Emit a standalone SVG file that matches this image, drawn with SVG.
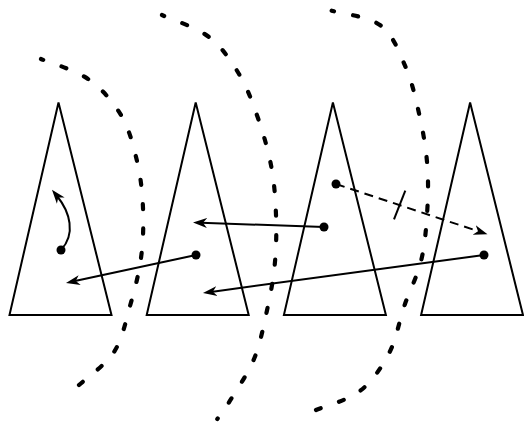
<svg xmlns="http://www.w3.org/2000/svg" width="524" height="426" viewBox="0 0 524 426">
<style>
.tri{fill:none;stroke:#000;stroke-width:2}
.bnd{fill:none;stroke:#000;stroke-width:4.2;stroke-linecap:round;stroke-dasharray:5 19;stroke-dashoffset:2.5}
.edge{fill:none;stroke:#000;stroke-width:2;marker-end:url(#ah)}
.dash{stroke-dasharray:9 6}
.dot{fill:#000}
</style>
<defs>
<marker id="ah" markerUnits="userSpaceOnUse" viewBox="0 -6 15 12" markerWidth="15" markerHeight="12" refX="6" refY="0" orient="auto">
<path d="M0,-5 L14,0 L0,5 L4,0 z" fill="#000"/>
</marker>
</defs>
<g id="boundaries">
<path class="bnd" pathLength="386.5" d="M41,59 C48.8,62.3 74.7,69.7 88,79 C101.3,88.3 112.8,101.3 121,115 C129.2,128.7 133.3,145.5 137,161 C140.7,176.5 142.3,191.8 143,208 C143.7,224.2 143.2,241.7 141,258 C138.8,274.3 134.5,290.3 130,306 C125.5,321.7 122.5,338.8 114,352 C105.5,365.2 84.8,379.5 79,385"/>
<path class="bnd" pathLength="454.3" d="M162,15 C169.8,18.7 196.2,27.2 209,37 C221.8,46.8 230.9,60.6 239,74 C247.1,87.4 252.3,101.8 257.7,117.3 C263.1,132.8 268.3,150.4 271.3,166.7 C274.4,183 275.4,198.6 276,215 C276.6,231.4 276.3,248.9 274.7,265 C273.1,281.1 270.2,296 266.7,311.7 C263.3,327.4 260.1,344.2 254,359 C247.9,373.8 236.1,390.7 230,400.7 C223.9,410.7 219.4,416 217.3,419"/>
<path class="bnd" pathLength="482.5" d="M331.7,10.7 C339.9,13.2 368.7,16.3 381,25.7 C393.3,35.1 399.4,52.7 405.7,67.3 C412,81.9 415.5,97.6 419,113.3 C422.6,129 425.6,145.6 427,161.7 C428.4,177.8 428.3,193.6 427.3,210 C426.3,226.4 425.1,244 421.3,260 C417.5,276 409.6,290.5 404.3,306 C399,321.5 396.6,338.6 389.3,352.7 C382,366.8 372.5,381.1 360.3,390.7 C348.1,400.3 323.4,406.8 316,410"/>
</g>
<g id="t1"><polygon class="tri" points="58.5,102.5 9.5,315 111.5,315"/></g>
<g id="t2"><polygon class="tri" points="195.7,102.5 146.7,315 248.7,315"/></g>
<g id="t3"><polygon class="tri" points="332.9,102.5 283.9,315 385.9,315"/></g>
<g id="t4"><polygon class="tri" points="470.1,102.5 421.1,315 523,315"/></g>
<g id="connectors">
<path class="edge" d="M61,250 C76,234 70,212 57,196"/>
<line class="edge" x1="196" y1="255" x2="73.8" y2="281.3"/>
<line class="edge" x1="324" y1="227" x2="201" y2="222.8"/>
<line class="edge" x1="484" y1="255" x2="210.9" y2="291.9"/>
<line class="edge dash" x1="336" y1="184" x2="479.9" y2="231.8"/>
<line x1="405.3" y1="190.7" x2="394" y2="219.3" stroke="#000" stroke-width="2"/>
<circle class="dot" cx="61" cy="250" r="4.5"/>
<circle class="dot" cx="196" cy="255" r="4.5"/>
<circle class="dot" cx="324" cy="227" r="4.5"/>
<circle class="dot" cx="484" cy="255" r="4.5"/>
<circle class="dot" cx="336" cy="184" r="4.5"/>
</g>
</svg>
